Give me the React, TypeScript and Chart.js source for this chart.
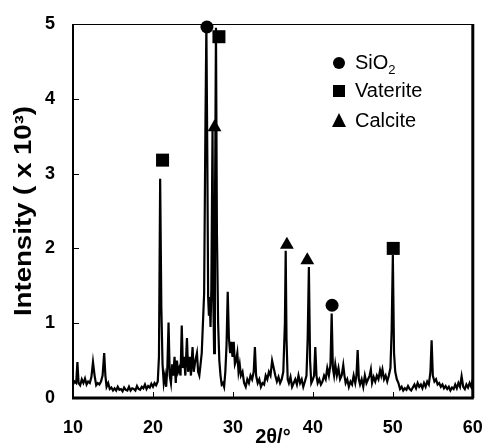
import { useEffect, useRef } from "react";
import { Chart, registerables } from "chart.js";

Chart.register(...registerables);

// 2θ (degrees) and intensity (×10³)
const angles = [
  10.0, 10.2, 10.4, 10.55, 10.7, 10.9, 11.1, 11.3, 11.5, 11.7, 11.9, 12.1, 12.3, 12.5, 12.7, 12.9,
  13.1, 13.3, 13.5, 13.7, 13.9, 14.05, 14.2, 14.4, 14.6, 14.8, 15.0, 15.2, 15.4, 15.6, 15.8, 16.0,
  16.2, 16.4, 16.6, 16.8, 17.0, 17.2, 17.4, 17.6, 17.8, 18.0, 18.2, 18.4, 18.6, 18.8, 19.0, 19.2,
  19.4, 19.6, 19.8, 20.0, 20.2, 20.4, 20.6, 20.75, 20.9, 21.05, 21.2, 21.35, 21.5, 21.65, 21.8, 21.95,
  22.1, 22.25, 22.4, 22.55, 22.7, 22.85, 23.0, 23.15, 23.3, 23.45, 23.6, 23.75, 23.9, 24.05, 24.25, 24.4,
  24.6, 24.75, 24.95, 25.1, 25.3, 25.5, 25.65, 25.8, 25.95, 26.1, 26.25, 26.4, 26.55, 26.68, 26.8, 26.9,
  27.0, 27.1, 27.2, 27.3, 27.45, 27.55, 27.65, 27.75, 27.88, 28.0, 28.15, 28.3, 28.45, 28.6, 28.75, 28.9,
  29.05, 29.2, 29.35, 29.5, 29.65, 29.8, 29.95, 30.1, 30.25, 30.4, 30.55, 30.7, 30.85, 31.0, 31.2, 31.4,
  31.6, 31.8, 32.0, 32.2, 32.4, 32.6, 32.75, 32.9, 33.1, 33.3, 33.5, 33.7, 33.9, 34.1, 34.3, 34.5,
  34.7, 34.9, 35.1, 35.3, 35.5, 35.7, 35.9, 36.1, 36.3, 36.5, 36.6, 36.7, 36.85, 37.0, 37.2, 37.4,
  37.6, 37.8, 38.0, 38.2, 38.4, 38.6, 38.8, 39.0, 39.2, 39.35, 39.5, 39.65, 39.8, 40.0, 40.15, 40.3,
  40.45, 40.6, 40.8, 41.0, 41.2, 41.4, 41.6, 41.8, 42.0, 42.2, 42.35, 42.5, 42.65, 42.8, 43.0, 43.2,
  43.4, 43.6, 43.8, 43.95, 44.1, 44.3, 44.5, 44.7, 44.9, 45.1, 45.3, 45.45, 45.6, 45.75, 45.9, 46.1,
  46.3, 46.5, 46.7, 46.9, 47.1, 47.25, 47.4, 47.6, 47.8, 48.0, 48.2, 48.4, 48.55, 48.7, 48.9, 49.1,
  49.3, 49.5, 49.7, 49.85, 50.0, 50.15, 50.3, 50.5, 50.7, 50.9, 51.1, 51.3, 51.5, 51.7, 51.9, 52.1,
  52.3, 52.5, 52.7, 52.9, 53.1, 53.3, 53.5, 53.7, 53.9, 54.1, 54.3, 54.5, 54.7, 54.85, 55.0, 55.2,
  55.4, 55.6, 55.8, 56.0, 56.2, 56.4, 56.6, 56.8, 57.0, 57.2, 57.4, 57.6, 57.8, 58.0, 58.2, 58.4,
  58.6, 58.8, 59.0, 59.2, 59.4, 59.6, 59.8, 60.0,
];

const intensity = [
  0.18, 0.22, 0.2, 0.48, 0.2, 0.17, 0.25, 0.2, 0.26, 0.18, 0.22, 0.2, 0.28, 0.48, 0.3, 0.17,
  0.2, 0.18, 0.22, 0.3, 0.6, 0.3, 0.15, 0.2, 0.12, 0.14, 0.1, 0.13, 0.1, 0.15, 0.11, 0.12,
  0.09, 0.14, 0.11, 0.1, 0.15, 0.1, 0.13, 0.12, 0.1, 0.16, 0.12, 0.11, 0.15, 0.13, 0.18, 0.12,
  0.16, 0.14, 0.19, 0.15, 0.2, 0.17, 0.22, 0.55, 2.93, 1.2, 0.45, 0.2, 0.3, 0.15, 0.4, 1.01,
  0.3, 0.2, 0.45, 0.3, 0.55, 0.2, 0.5, 0.35, 0.4, 0.3, 0.97, 0.4, 0.55, 0.3, 0.8, 0.35,
  0.55, 0.3, 0.68, 0.35, 0.5, 0.6, 0.35, 0.3, 0.45, 0.6, 1.0, 1.4, 3.5, 4.98, 3.2, 1.35,
  1.1, 1.3, 0.95, 1.45, 3.6, 1.3, 0.6, 2.4, 4.95, 2.2, 1.0, 0.5, 0.3, 0.18, 0.2, 0.15,
  0.35, 0.7, 1.42, 0.8, 0.6, 0.75, 0.55, 0.75, 0.45, 0.5, 0.6, 0.35, 0.45, 0.3, 0.35, 0.2,
  0.15, 0.25, 0.2, 0.3, 0.25, 0.35, 0.68, 0.3, 0.2, 0.25, 0.15, 0.2, 0.18, 0.3, 0.25, 0.35,
  0.3, 0.5, 0.4, 0.3, 0.22, 0.28, 0.2, 0.25, 0.35, 1.0, 1.97, 0.8, 0.25, 0.2, 0.28, 0.15,
  0.2, 0.25, 0.18, 0.3, 0.2, 0.25, 0.15, 0.22, 0.3, 0.8, 1.75, 0.5, 0.2, 0.25, 0.3, 0.68,
  0.3, 0.2, 0.25, 0.18, 0.22, 0.3, 0.25, 0.4, 0.3, 0.45, 1.13, 0.4, 0.3, 0.45, 0.3, 0.4,
  0.25, 0.3, 0.44, 0.3, 0.2, 0.25, 0.15, 0.22, 0.18, 0.3, 0.2, 0.3, 0.64, 0.25, 0.18, 0.25,
  0.15, 0.3, 0.2, 0.25, 0.3, 0.38, 0.2, 0.28, 0.22, 0.3, 0.25, 0.37, 0.3, 0.38, 0.25, 0.3,
  0.22, 0.3, 0.4, 0.9, 1.91, 0.6, 0.35, 0.25, 0.2, 0.12, 0.15, 0.1, 0.13, 0.11, 0.16, 0.12,
  0.1, 0.14, 0.18, 0.13, 0.2, 0.15, 0.18, 0.13, 0.2, 0.15, 0.22, 0.18, 0.35, 0.77, 0.3, 0.22,
  0.25, 0.18, 0.2, 0.15, 0.18, 0.13, 0.16, 0.12, 0.15, 0.1, 0.14, 0.12, 0.18, 0.13, 0.2, 0.15,
  0.29, 0.15, 0.12, 0.18, 0.14, 0.2, 0.15, 0.25,
];

// Phase markers placed above the identified peaks
const sio2Angles = [26.75, 42.4];
const sio2Heights = [4.96, 1.24];
const vateriteAngles = [21.2, 28.25, 50.05];
const vateriteHeights = [3.18, 4.83, 2.0];
const calciteAngles = [27.7, 36.75, 39.3];
const calciteHeights = [3.62, 2.05, 1.84];

const legendLabels = ["SiO", "Vaterite", "Calcite"];
const xTicks = [10, 20, 30, 40, 50, 60];
const yTicks = [0, 1, 2, 3, 4, 5];
const xTitle = "2θ/°";
const yTitle = "Intensity ( x 10³)";

const FONT = "'Liberation Sans', Arial, Helvetica, sans-serif";

const toPoints = (xs: number[], ys: number[]) => xs.map((x, i) => ({ x, y: ys[i] }));

const framePlugin = {
  id: "frameAndExtras",
  afterDraw(chart: any) {
    const { ctx, chartArea, scales } = chart;
    const { left, right, top, bottom } = chartArea;
    const xs = scales.x;
    const ys = scales.y;
    ctx.save();
    ctx.strokeStyle = "#000";
    ctx.fillStyle = "#000";

    // inward tick marks
    ctx.lineWidth = 1;
    ctx.beginPath();
    xTicks.forEach((v) => {
      const px = Math.round(xs.getPixelForValue(v)) + 0.5;
      ctx.moveTo(px, bottom);
      ctx.lineTo(px, bottom - 6);
    });
    yTicks.forEach((v) => {
      const py = Math.round(ys.getPixelForValue(v)) + 0.5;
      ctx.moveTo(left, py);
      ctx.lineTo(left + 6, py);
    });
    ctx.stroke();

    // frame
    ctx.lineWidth = 1;
    ctx.beginPath();
    ctx.moveTo(left, top + 0.5);
    ctx.lineTo(right, top + 0.5);
    ctx.stroke();
    ctx.lineWidth = 2;
    ctx.beginPath();
    ctx.moveTo(left, top);
    ctx.lineTo(left, bottom);
    ctx.stroke();
    ctx.lineWidth = 3;
    ctx.beginPath();
    ctx.moveTo(left - 1, bottom);
    ctx.lineTo(right + 1, bottom);
    ctx.moveTo(right, top);
    ctx.lineTo(right, bottom);
    ctx.stroke();

    // legend
    const lx = 339;
    const tx = 355;
    const rows = [63, 91, 121];
    ctx.font = `20px ${FONT}`;
    ctx.textBaseline = "middle";
    ctx.textAlign = "left";
    ctx.beginPath();
    ctx.arc(lx, rows[0], 6, 0, Math.PI * 2);
    ctx.fill();
    ctx.fillRect(lx - 6, rows[1] - 6, 12, 12);
    ctx.beginPath();
    ctx.moveTo(lx, rows[2] - 8);
    ctx.lineTo(lx + 7, rows[2] + 6);
    ctx.lineTo(lx - 7, rows[2] + 6);
    ctx.closePath();
    ctx.fill();
    ctx.fillText(legendLabels[0], tx, rows[0]);
    const w = ctx.measureText(legendLabels[0]).width;
    ctx.font = `13px ${FONT}`;
    ctx.fillText("2", tx + w, rows[0] + 7);
    ctx.font = `20px ${FONT}`;
    ctx.fillText(legendLabels[1], tx, rows[1]);
    ctx.fillText(legendLabels[2], tx, rows[2]);

    // axis titles
    ctx.font = `bold 20px ${FONT}`;
    ctx.textAlign = "center";
    ctx.fillText(xTitle, (left + right) / 2, 437);

    ctx.save();
    ctx.translate(25, (top + bottom) / 2);
    ctx.rotate(-Math.PI / 2);
    ctx.scale(1.2, 1);
    ctx.font = `bold 23px ${FONT}`;
    ctx.textAlign = "center";
    ctx.textBaseline = "middle";
    ctx.fillText(yTitle, 0, 0);
    ctx.restore();

    ctx.restore();
  },
};

export default function App() {
  const ref = useRef<HTMLCanvasElement>(null);

  useEffect(() => {
    document.body.style.margin = "0";
    const canvas = ref.current;
    if (!canvas) return;
    const chart = new Chart(canvas, {
      type: "line",
      data: {
        datasets: [
          {
            label: "SiO2",
            data: toPoints(sio2Angles, sio2Heights),
            showLine: false,
            pointStyle: "circle",
            pointRadius: 6.5,
            backgroundColor: "#000",
            borderColor: "#000",
            borderWidth: 0,
            clip: false as any,
          },
          {
            label: "Vaterite",
            data: toPoints(vateriteAngles, vateriteHeights),
            showLine: false,
            pointStyle: "rect",
            pointRadius: 9.2,
            backgroundColor: "#000",
            borderColor: "#000",
            borderWidth: 0,
            clip: false as any,
          },
          {
            label: "Calcite",
            data: toPoints(calciteAngles, calciteHeights),
            showLine: false,
            pointStyle: "triangle",
            pointRadius: 8,
            backgroundColor: "#000",
            borderColor: "#000",
            borderWidth: 0,
            clip: false as any,
          },
          {
            label: "XRD",
            data: toPoints(angles, intensity),
            borderColor: "#000",
            borderWidth: 2.2,
            pointRadius: 0,
            tension: 0,
            fill: false,
          },
        ],
      },
      options: {
        animation: false,
        responsive: false,
        maintainAspectRatio: false,
        devicePixelRatio: 1,
        events: [],
        layout: { padding: { top: 24, right: 9, left: 0, bottom: 0 } },
        plugins: {
          legend: { display: false },
          tooltip: { enabled: false },
          title: { display: false },
        },
        scales: {
          x: {
            type: "linear",
            min: 10,
            max: 60,
            grid: { display: false, drawTicks: false },
            border: { display: false },
            afterFit: (scale: any) => {
              scale.height = 48;
              scale.paddingLeft = 0;
              scale.paddingRight = 0;
            },
            ticks: {
              stepSize: 10,
              padding: 19,
              color: "#000",
              font: { family: FONT, size: 18, weight: "bold" },
              maxRotation: 0,
            },
          },
          y: {
            type: "linear",
            min: 0,
            max: 5,
            grid: { display: false, drawTicks: false },
            border: { display: false },
            afterFit: (scale: any) => {
              scale.width = 73;
              scale.paddingTop = 0;
              scale.paddingBottom = 0;
            },
            ticks: {
              stepSize: 1,
              padding: 18,
              color: "#000",
              font: { family: FONT, size: 18, weight: "bold" },
            },
          },
        },
      },
      plugins: [framePlugin],
    });
    return () => chart.destroy();
  }, []);

  return (
    <div style={{ width: 482, height: 446, background: "#fff" }}>
      <canvas ref={ref} width={482} height={446} style={{ display: "block" }} />
    </div>
  );
}
